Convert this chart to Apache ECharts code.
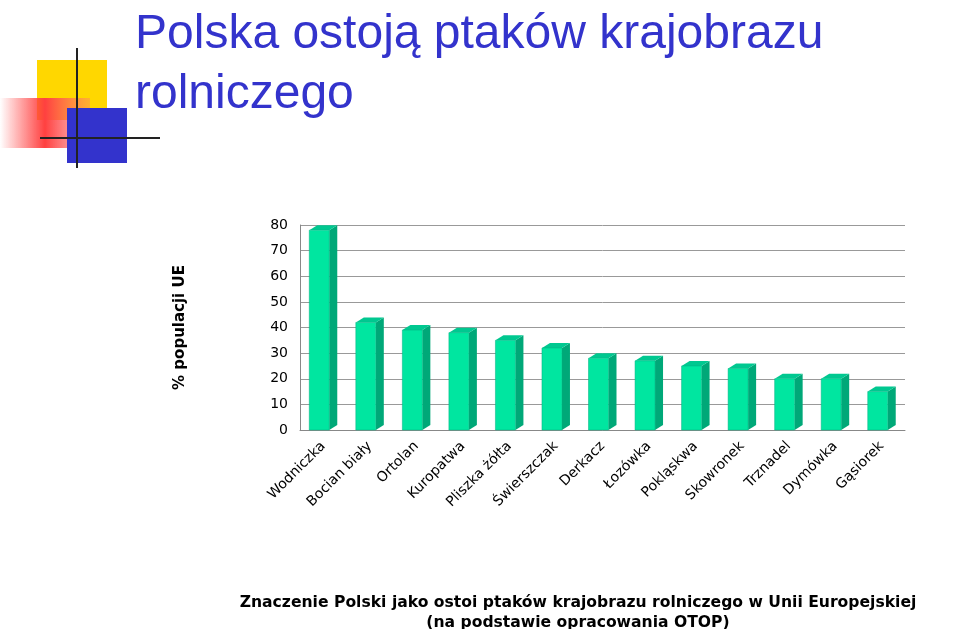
<!DOCTYPE html><html><head><meta charset="utf-8">
<script src="https://cdn.jsdelivr.net/npm/echarts@6/dist/echarts.min.js"></script>
<style>html,body{margin:0;padding:0;background:#fff}#c{width:960px;height:629px}</style></head><body><div id="c"></div>
<script>
const categories=['Wodniczka','Bocian biały','Ortolan','Kuropatwa','Pliszka żółta','Świerszczak','Derkacz','Łozówka','Pokląskwa','Skowronek','Trznadel','Dymówka','Gąsiorek'];
const values=[78,42,39,38,35,32,28,27,25,24,20,20,15];
const yTicks=[0,10,20,30,40,50,60,70,80];
const chart=echarts.init(document.getElementById('c'));
const DX=8,DY=5;
chart.setOption({
 animation:false,
 title:[{text:'Polska ostoją ptaków krajobrazu\nrolniczego',left:130,top:0,textStyle:{color:'#3333CC',fontSize:48,fontWeight:'normal',fontFamily:'Liberation Sans',lineHeight:60}},
  {text:'Znaczenie Polski jako ostoi ptaków krajobrazu rolniczego w Unii Europejskiej\n(na podstawie opracowania OTOP)',left:573,textAlign:'center',top:588,textStyle:{color:'#000',fontSize:15.6,fontWeight:'bold',fontFamily:'DejaVu Sans',lineHeight:20}}],
 graphic:[
  {type:'rect',shape:{x:37,y:60,width:70,height:60},style:{fill:'#FFD700'}},
  {type:'rect',shape:{x:0,y:98,width:90,height:50},style:{fill:new echarts.graphic.LinearGradient(0,0,1,0,[{offset:0,color:'rgba(255,60,60,0)'},{offset:0.5,color:'#FF4040'},{offset:1,color:'rgba(255,120,120,0.4)'}])}},
  {type:'rect',shape:{x:67,y:108,width:60,height:55},style:{fill:'#3333CC'}},
  {type:'line',shape:{x1:77,y1:48,x2:77,y2:168},style:{stroke:'#222',lineWidth:2}},
  {type:'line',shape:{x1:40,y1:138,x2:160,y2:138},style:{stroke:'#222',lineWidth:2}}
 ],
 grid:{left:300,right:55,top:225,bottom:199},
 xAxis:{type:'category',data:categories,axisLine:{lineStyle:{color:'#888'}},axisTick:{show:false},
  axisLabel:{rotate:45,fontSize:14,fontFamily:'DejaVu Sans',color:'#000',interval:0,margin:14,align:'right'}},
 yAxis:{type:'value',min:0,max:80,interval:10,name:'% populacji UE',nameLocation:'middle',nameGap:112,nameRotate:90,
  nameTextStyle:{fontSize:15,fontWeight:'bold',fontFamily:'DejaVu Sans',color:'#000'},
  axisLine:{show:true,lineStyle:{color:'#888'}},splitLine:{lineStyle:{color:'#999'}},
  axisLabel:{fontSize:14,fontFamily:'DejaVu Sans',color:'#000',margin:12}},
 series:[{type:'custom',data:values.map((v,i)=>[i,v]),renderItem:(params,api)=>{
   const top=api.coord([api.value(0),api.value(1)]);const bot=api.coord([api.value(0),0]);
   const w=20,x=top[0]-w/2-4;
   return {type:'group',children:[
    {type:'polygon',shape:{points:[[x+w,top[1]],[x+w+DX,top[1]-DY],[x+w+DX,bot[1]-DY],[x+w,bot[1]]]},style:{fill:'#00A878'}},
    {type:'polygon',shape:{points:[[x,top[1]],[x+DX,top[1]-DY],[x+w+DX,top[1]-DY],[x+w,top[1]]]},style:{fill:'#00C890'}},
    {type:'rect',shape:{x:x,y:top[1],width:w,height:bot[1]-top[1]},style:{fill:'#00E6A0',stroke:'#00B080',lineWidth:0.5}}
   ]};
 }}]
});
</script></body></html>
